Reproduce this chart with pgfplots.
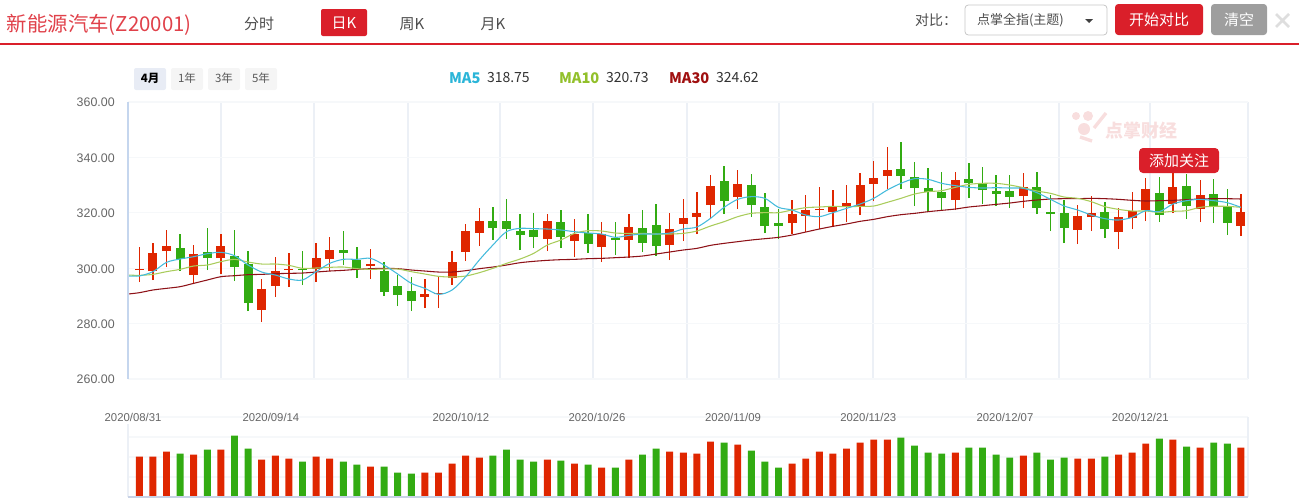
\documentclass[border=0pt]{standalone}
\usepackage{fontspec}
\setmainfont{Noto Sans CJK SC}
\newfontfamily\arialish{Liberation Sans}
\usepackage{pgfplots}
\usepackage{pgfplotstable}
\pgfplotsset{compat=1.18}

\definecolor{cred}{HTML}{DF2600}
\definecolor{cgreen}{HTML}{32AB12}
\definecolor{ma5}{HTML}{45BBDC}
\definecolor{ma10}{HTML}{A9CC5C}
\definecolor{ma30}{HTML}{8E1218}
\definecolor{uired}{HTML}{DA1F2A}
\definecolor{gridv}{HTML}{ECF0F6}
\definecolor{gridh}{HTML}{F6F8FA}
\definecolor{axisb}{HTML}{C8D2E6}
\definecolor{btnsel}{HTML}{E8ECF5}
\definecolor{leg5}{HTML}{2BB5D8}
\definecolor{leg10}{HTML}{92C02B}
\definecolor{leg30}{HTML}{A01010}
\definecolor{leftline}{HTML}{C5D6EE}
\definecolor{wmark}{HTML}{F8DEDE}

% i lo hi bot top
\pgfplotstableread{
i lo hi bot top
1 295.01 307.65 299.34 299.71
2 295.74 309.09 298.98 305.48
3 300.43 313.79 306.21 308.01
5 294.29 308.37 297.54 305.12
7 297.90 312.34 303.68 308.01
10 280.57 296.10 284.90 292.49
11 289.60 304.04 293.57 298.98
12 293.21 305.48 299.34 299.71
14 295.01 309.09 299.71 303.68
15 298.98 311.26 303.32 306.57
18 296.10 306.93 300.79 301.51
22 285.63 296.10 289.60 290.68
23 285.63 296.82 290.56 290.92
24 293.93 306.21 296.46 302.23
25 302.60 315.95 305.85 313.43
26 308.01 321.73 312.70 317.04
31 306.21 319.56 310.54 317.04
33 304.04 317.76 309.82 312.34
35 302.23 316.68 307.65 312.34
37 303.68 319.56 310.18 314.87
40 302.96 319.93 308.37 314.15
41 309.82 324.98 315.95 318.12
42 312.34 327.51 318.48 319.93
43 318.12 333.65 322.81 329.67
45 321.37 335.45 325.70 330.40
49 312.34 324.62 316.31 319.56
50 313.06 326.42 318.84 321.01
51 314.15 329.31 321.01 321.37
52 315.23 328.23 320.29 322.45
53 316.68 330.03 322.45 323.53
54 319.20 334.37 322.09 330.03
55 324.26 338.70 330.40 332.56
56 328.59 343.75 333.28 335.45
61 321.01 334.73 324.62 331.84
66 321.73 334.37 326.06 329.31
70 308.73 322.81 313.79 318.84
71 313.43 326.06 318.48 319.93
73 306.93 321.73 313.06 318.48
74 314.15 327.51 318.12 320.65
75 317.04 332.56 321.01 328.59
77 319.93 335.45 323.17 329.31
79 316.68 331.84 321.37 326.42
82 311.62 326.78 315.23 320.29
}\redcandles

\pgfplotstableread{
i lo hi bot top
4 298.98 312.34 303.32 307.29
6 299.34 314.51 303.68 305.85
8 295.37 313.79 300.43 304.40
9 284.54 306.21 287.43 301.51
13 293.93 306.21 299.34 299.71
16 301.15 313.43 305.48 306.57
17 296.46 307.65 299.71 302.96
19 289.96 302.23 291.40 298.98
20 286.35 297.54 290.32 293.57
21 284.54 296.82 288.15 291.77
27 310.18 322.09 314.51 317.04
28 310.54 324.98 314.15 317.04
29 306.57 319.56 311.98 313.43
30 307.29 319.93 311.26 313.79
32 307.29 321.01 311.26 316.68
34 305.48 319.56 308.73 312.70
36 304.76 316.68 310.18 310.90
38 305.85 321.01 309.09 314.51
39 304.40 323.17 308.01 315.59
44 319.56 336.89 324.26 331.48
46 318.48 334.01 322.81 330.03
47 312.70 327.15 315.23 322.09
48 310.54 321.37 315.23 316.31
57 328.59 345.56 333.28 335.81
58 322.45 338.34 328.95 332.92
59 320.65 336.17 327.51 328.95
60 321.01 334.73 325.34 327.51
62 325.34 337.98 330.76 332.20
63 323.17 336.53 328.23 330.76
64 322.45 333.65 326.78 327.87
65 321.73 333.65 325.70 327.87
67 319.56 334.73 321.73 329.31
68 313.43 326.42 319.56 320.29
69 309.09 324.62 314.51 319.93
72 310.90 323.90 314.15 320.29
76 316.68 332.92 319.20 327.15
78 317.76 334.01 322.45 329.67
80 316.31 332.20 322.45 326.78
81 311.98 328.59 316.31 322.09
}\greencandles

\pgfplotstableread{
i ma5 ma10 ma30
0.17 297.20 297.54 290.68
1 297.20 297.42 291.16
2 298.75 297.78 292.13
3 302.11 298.75 292.73
4 303.32 299.59 293.33
5 304.16 300.79 294.53
6 305.24 301.15 295.74
7 305.73 302.36 296.94
8 304.52 303.20 297.30
9 301.15 302.23 297.66
10 298.62 301.51 297.78
11 297.54 301.51 298.02
12 296.10 301.03 298.14
13 295.74 299.95 298.26
14 298.75 300.07 298.62
15 301.75 300.31 298.98
16 303.20 300.43 299.23
17 303.20 299.83 299.59
18 303.56 299.59 299.83
19 301.15 299.71 299.95
20 297.90 299.71 299.83
21 294.53 298.75 299.35
22 292.73 297.90 298.98
23 290.56 297.06 298.62
24 292.13 296.82 298.62
25 296.94 297.18 299.11
26 302.96 298.38 299.83
27 308.37 299.95 300.43
28 313.19 301.75 301.15
29 314.39 303.32 301.99
30 314.27 305.36 302.48
31 314.15 308.37 302.84
32 313.79 310.18 303.08
33 313.19 312.58 303.20
34 312.70 313.55 303.44
35 312.34 313.43 303.56
36 311.14 312.70 303.80
37 311.86 312.58 304.04
38 312.34 312.58 304.40
39 312.34 312.34 305.12
40 312.70 312.34 305.85
41 314.15 312.58 306.57
42 314.87 313.43 307.17
43 318.00 315.23 308.25
44 321.97 316.80 308.97
45 324.86 318.60 309.58
46 325.82 319.80 310.18
47 325.22 320.05 310.66
48 321.97 320.05 311.14
49 321.01 321.01 311.98
50 319.20 321.85 313.06
51 318.60 322.09 314.15
52 320.05 322.33 315.11
53 321.61 322.21 315.95
54 323.17 322.33 316.92
55 325.22 322.45 317.64
56 328.23 323.78 318.60
57 330.64 325.22 319.32
58 332.32 326.78 319.80
59 332.08 327.63 320.41
60 330.64 327.99 320.89
61 329.79 329.19 321.37
62 329.19 330.27 322.09
63 328.95 330.64 322.57
64 329.07 330.64 323.05
65 328.95 330.03 323.53
66 328.83 329.07 324.14
67 327.27 327.87 324.62
68 324.86 327.03 324.98
69 322.45 325.70 325.10
70 321.01 325.22 325.10
71 319.20 324.02 325.22
72 317.88 322.21 325.10
73 317.40 321.25 324.86
74 318.36 320.65 324.50
75 320.77 320.65 324.26
76 320.41 320.17 324.38
77 323.17 320.53 324.50
78 324.38 320.77 324.74
79 324.86 321.97 324.98
80 324.38 322.33 325.10
81 323.66 322.33 325.10
82 321.97 321.97 324.98
}\mavalues

% volume, red and green days
\pgfplotstableread{
i v
1 40.3
2 40.3
3 45.3
5 42.3
7 47.3
10 37.3
11 41.3
12 38.3
14 40.3
15 38.3
18 30.3
22 24.3
23 24.3
24 33.3
25 41.3
26 39.3
31 37.3
33 33.3
35 29.3
37 37.3
40 45.3
41 44.3
42 43.3
43 55.3
45 52.3
49 33.3
50 38.3
51 45.3
52 43.3
53 48.3
54 54.3
55 57.3
56 57.3
61 44.3
66 41.3
70 38.3
71 38.3
73 42.3
74 44.3
75 53.3
77 57.3
79 49.3
82 49.3
}\redvol

\pgfplotstableread{
i v
4 43.3
6 47.3
8 61.3
9 48.3
13 35.3
16 35.3
17 32.3
19 30.3
20 24.3
21 23.3
27 41.3
28 47.3
29 37.3
30 35.3
32 36.3
34 32.3
36 29.3
38 42.3
39 48.3
44 54.3
46 46.3
47 35.3
48 29.3
57 59.3
58 51.3
59 44.3
60 43.3
62 49.3
63 49.3
64 42.3
65 39.3
67 44.3
68 37.3
69 39.3
72 40.3
76 58.3
78 50.3
80 54.3
81 53.3
}\greenvol

\begin{document}
\begin{tikzpicture}[x=0.75pt,y=-0.75pt,every node/.style={inner sep=0pt,outer sep=0pt}]
\path[use as bounding box] (0,0) rectangle (1299,501);

% page header
\node[anchor=west,text=uired!85!white,font=\fontsize{15.3}{15.3}\selectfont] at (7,25) {新能源汽车(Z20001)};
\draw[uired,line width=1.5pt] (0,44) -- (1299,44);
\node[text=black!70,font=\fontsize{11.25}{11.25}\selectfont] at (259,24) {分时};
\fill[uired,rounded corners=1.5pt] (321,9) rectangle (367,36);
\node[text=white,font=\fontsize{11.25}{11.25}\selectfont] at (344,23) {日K};
\node[text=black!70,font=\fontsize{11.25}{11.25}\selectfont] at (412,24) {周K};
\node[text=black!70,font=\fontsize{11.25}{11.25}\selectfont] at (493,24) {月K};
\node[text=black!70,font=\fontsize{10.5}{10.5}\selectfont] at (936,20) {对比：};
\draw[black!22,rounded corners=2.5pt,line width=0.6pt] (965,5) rectangle (1107,35);
\node[anchor=west,text=black!70,font=\fontsize{9.75}{9.75}\selectfont] at (977,20) {点掌全指(主题)};
\fill[black!75] (1085,19) -- (1093,19) -- (1089,23) -- cycle;
\fill[uired,rounded corners=2.5pt] (1115,4) rectangle (1203,35);
\node[text=white,font=\fontsize{11.25}{11.25}\selectfont] at (1159,20) {开始对比};
\fill[black!38,rounded corners=2.5pt] (1211,4) rectangle (1267,35);
\node[text=white,font=\fontsize{11.25}{11.25}\selectfont] at (1239,20) {清空};
\draw[black!13,line width=2pt] (1276,14) -- (1289,27) (1289,14) -- (1276,27);

% range buttons
\fill[btnsel,rounded corners=1.5pt] (134,68) rectangle (166,90);
\fill[black!4,rounded corners=1.5pt] (171,68) rectangle (203,90);
\fill[black!4,rounded corners=1.5pt] (208,68) rectangle (240,90);
\fill[black!4,rounded corners=1.5pt] (245,68) rectangle (277,90);
\node[font=\fontsize{8.6}{8.6}\selectfont\bfseries] at (150,78.5) {4月};
\node[text=black!65,font=\fontsize{8.6}{8.6}\selectfont] at (187,78.5) {1年};
\node[text=black!65,font=\fontsize{8.6}{8.6}\selectfont] at (224,78.5) {3年};
\node[text=black!65,font=\fontsize{8.6}{8.6}\selectfont] at (261,78.5) {5年};

% ma readout
\node[anchor=west,text=leg5,font=\fontsize{11}{11}\selectfont\bfseries] at (449,78) {MA5};
\node[anchor=west,text=black!80,font=\fontsize{10.5}{10.5}\selectfont] at (487,78) {318.75};
\node[anchor=west,text=leg10,font=\fontsize{11}{11}\selectfont\bfseries] at (559,78) {MA10};
\node[anchor=west,text=black!80,font=\fontsize{10.5}{10.5}\selectfont] at (606,78) {320.73};
\node[anchor=west,text=leg30,font=\fontsize{11}{11}\selectfont\bfseries] at (669,78) {MA30};
\node[anchor=west,text=black!80,font=\fontsize{10.5}{10.5}\selectfont] at (716,78) {324.62};

% price panel
\begin{axis}[
    at={(96pt,-284.25pt)}, anchor=south west,
    scale only axis, width=840pt, height=207.75pt,
    xmin=0.17, xmax=82.52, ymin=260, ymax=360,
    xtick={7,13.85,20.76,27.5,34.36,41.26,48.04,54.95,61.8,68.6,75.3,82.52},
    xticklabels={},
    ytick={260,280,...,360},
    major tick length=0pt,
    xmajorgrids, ymajorgrids,
    x grid style={gridv,line width=1.5pt},
    y grid style={gridh,line width=0.8pt},
    axis line style={draw=none},
    yticklabel style={text=black!60,font=\fontsize{9.3}{9.3}\selectfont\arialish,anchor=east,xshift=-10pt,yshift=-0.5pt,
      /pgf/number format/fixed,/pgf/number format/fixed zerofill,/pgf/number format/precision=2,
      /pgf/number format/assume math mode=true},
]
\addplot[draw=none,no marks,error bars/.cd,y dir=plus,y explicit,error mark=none,
    error bar style={draw=cred,line width=0.95pt}]
    table[x=i,y=lo,y error plus expr=\thisrow{hi}-\thisrow{lo}] {\redcandles};
\addplot[draw=none,no marks,error bars/.cd,y dir=plus,y explicit,error mark=none,
    error bar style={draw=cred,line width=6.75pt}]
    table[x=i,y=bot,y error plus expr=\thisrow{top}-\thisrow{bot}] {\redcandles};
\addplot[draw=none,no marks,error bars/.cd,y dir=plus,y explicit,error mark=none,
    error bar style={draw=cgreen,line width=0.95pt}]
    table[x=i,y=lo,y error plus expr=\thisrow{hi}-\thisrow{lo}] {\greencandles};
\addplot[draw=none,no marks,error bars/.cd,y dir=plus,y explicit,error mark=none,
    error bar style={draw=cgreen,line width=6.75pt}]
    table[x=i,y=bot,y error plus expr=\thisrow{top}-\thisrow{bot}] {\greencandles};
\addplot[ma30,line width=0.8pt,smooth,no marks] table[x=i,y=ma30] {\mavalues};
\addplot[ma10,line width=0.8pt,smooth,no marks] table[x=i,y=ma10] {\mavalues};
\addplot[ma5,line width=0.8pt,smooth,no marks] table[x=i,y=ma5] {\mavalues};
\end{axis}
\draw[leftline,line width=0.8pt] (128,102) -- (128,379);

% watermark
\fill[wmark] (1076,116) circle (4);
\fill[wmark] (1088,116) circle (5);
\fill[wmark] (1084,129) circle (6);
\draw[wmark,line width=2.5pt] (1094,128) -- (1106,113);
\draw[wmark,line width=2.5pt] (1080,137) -- (1092,141);
\node[anchor=west,text=wmark,font=\fontsize{13.5}{13.5}\selectfont\bfseries] at (1105,131) {点掌财经};

% follow button
\fill[uired,rounded corners=3pt] (1139,148) rectangle (1219,173);
\node[text=white,font=\fontsize{11.25}{11.25}\selectfont] at (1179,161) {添加关注};

% volume panel
\begin{axis}[
    at={(96pt,-372.75pt)}, anchor=south west,
    scale only axis, width=840pt, height=60pt,
    xmin=0.17, xmax=82.52, ymin=0, ymax=80,
    xtick={0.54,10.68,24.65,34.65,44.65,54.6,64.65,74.6},
    xticklabels={2020/08/31,2020/09/14,2020/10/12,2020/10/26,2020/11/09,2020/11/23,2020/12/07,2020/12/21},
    xticklabel pos=upper,
    xticklabel style={text=black!60,font=\fontsize{8.5}{8.5}\selectfont\arialish,anchor=center,yshift=-0.3pt},
    ytick={20,40,60,80},
    yticklabels={},
    major tick length=0pt,
    ymajorgrids,
    y grid style={gridh,line width=0.8pt},
    axis line style={draw=none},
    clip=false,
]
\addplot[ybar,bar width=5.2pt,bar shift=0pt,fill=cred,draw=none] table[x=i,y=v] {\redvol};
\addplot[ybar,bar width=5.2pt,bar shift=0pt,fill=cgreen,draw=none] table[x=i,y=v] {\greenvol};
\end{axis}
\draw[gridv,line width=1.5pt] (1248,417) -- (1248,497);
\draw[gridv,line width=0.8pt] (128,424) -- (128,497);
\draw[axisb,line width=0.9pt] (128,497) -- (1248,497);
\end{tikzpicture}
\end{document}
